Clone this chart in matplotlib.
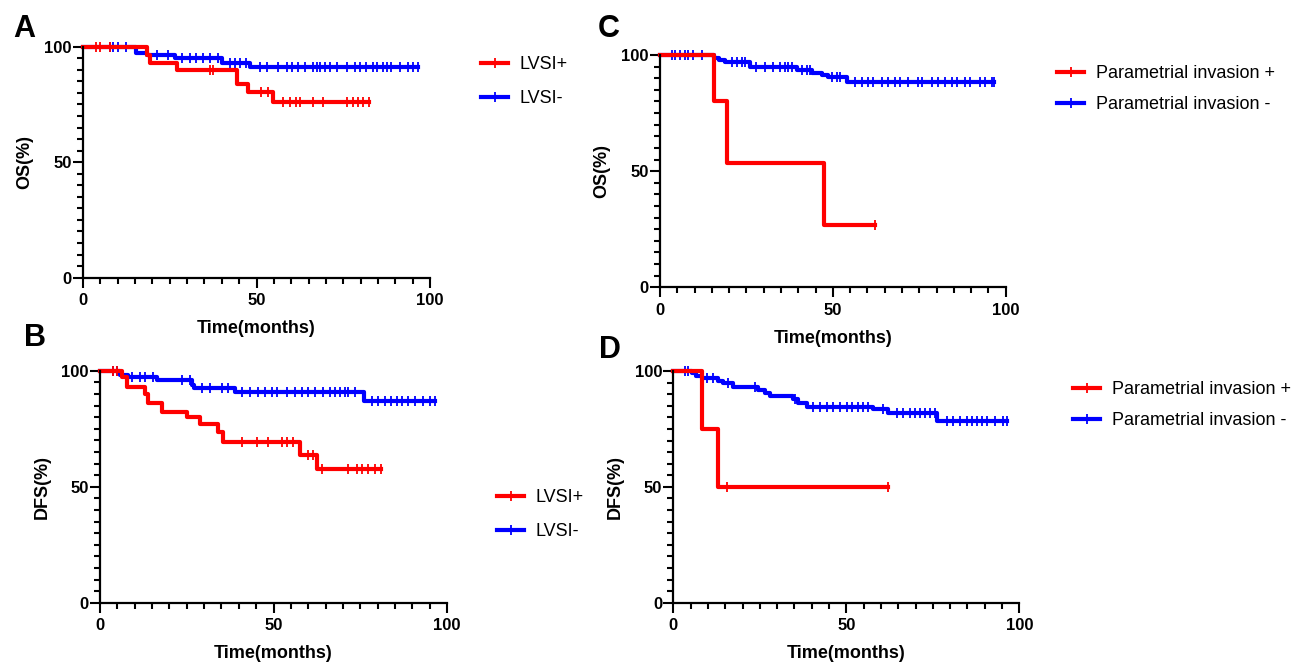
import numpy as np
import matplotlib
matplotlib.use('Agg')
import matplotlib.pyplot as plt
from matplotlib.lines import Line2D
from matplotlib.ticker import MultipleLocator

plt.rcParams['font.family'] = ['Liberation Sans', 'DejaVu Sans']

W, H = 1304, 664
RED, BLUE = '#FF0000', '#0000FF'

# ── Panel A: OS by LVSI ───────────────────────────────────────────────────────
a_pos_t = [18.3, 19.2, 27.0, 44.4, 47.5, 54.8]
a_pos_s = [96.6, 93.1, 89.7, 84.0, 80.2, 75.9]
a_pos_end = 82.5
a_pos_cens = [3.8, 4.8, 7.7, 36.5, 37.5, 51.4, 53.4, 57.7, 59.6, 61.5, 62.5,
              66.3, 69.2, 76.0, 77.9, 79.3, 80.8, 82.5]
a_neg_t = [15.4, 18.3, 26.4, 40.0, 48.0]
a_neg_s = [97.2, 96.3, 95.0, 93.0, 91.0]
a_neg_end = 96.6
a_neg_cens = [7.7, 8.7, 10.1, 12.5, 21.2, 24.5, 28.4, 30.8, 32.7, 34.6, 36.5,
              38.9, 42.3, 43.8, 45.2, 47.1, 51.0, 52.9, 56.3, 58.7, 60.1, 62.0,
              63.9, 66.3, 67.3, 68.3, 69.7, 71.2, 73.1, 76.0, 78.4, 79.8, 81.7,
              83.7, 84.6, 86.5, 87.5, 88.9, 91.3, 93.8, 95.2, 96.6]

# ── Panel B: DFS by LVSI ──────────────────────────────────────────────────────
b_pos_t = [6.2, 7.7, 13.0, 13.9, 17.8, 25.0, 28.8, 34.1, 35.5, 57.6, 62.4]
b_pos_s = [97.4, 92.9, 90.1, 85.9, 82.3, 80.0, 77.2, 73.6, 69.3, 63.6, 57.8]
b_pos_end = 81.0
b_pos_cens = [3.8, 4.8, 40.8, 45.2, 48.5, 52.4, 53.8, 55.7, 60.0, 61.5, 63.9,
              71.6, 74.0, 75.4, 77.3, 79.3, 81.0]
b_neg_t = [5.8, 8.2, 16.3, 26.4, 27.0, 38.9, 76.2]
b_neg_s = [98.2, 97.4, 96.0, 93.8, 92.4, 90.9, 87.1]
b_neg_end = 96.5
b_neg_cens = [3.8, 4.8, 9.1, 11.5, 13.0, 15.4, 23.5, 25.9, 29.3, 31.7, 35.1,
              37.0, 40.8, 43.2, 45.6, 47.5, 49.5, 50.9, 53.8, 56.2, 58.1, 60.0,
              62.0, 64.4, 66.3, 67.7, 69.2, 70.6, 71.6, 73.5, 78.3, 80.2, 82.1,
              84.0, 85.5, 87.0, 88.9, 90.8, 93.2, 95.1, 96.5]

# ── Panel C: OS by parametrial invasion ───────────────────────────────────────
c_pos_t = [15.7, 19.3, 47.5]
c_pos_s = [80.0, 53.3, 26.7]
c_pos_end = 62.2
c_pos_cens = [62.2]
c_neg_t = [15.7, 17.1, 18.8, 26.0, 39.5, 43.9, 46.8, 48.7, 54.0]
c_neg_s = [98.8, 97.8, 96.9, 95.0, 93.5, 92.1, 91.2, 90.4, 88.5]
c_neg_end = 96.7
c_neg_cens = [3.4, 4.3, 5.8, 7.2, 8.2, 9.6, 12.1, 20.7, 22.2, 23.6, 24.6, 27.9,
              30.4, 32.8, 34.7, 36.2, 37.1, 38.1, 41.0, 42.4, 43.4, 49.7, 51.1,
              52.1, 56.4, 58.3, 60.3, 61.7, 64.1, 66.0, 68.0, 69.4, 71.8, 74.7,
              75.7, 78.6, 80.5, 82.4, 84.4, 85.8, 88.2, 89.7, 92.6, 94.0, 95.9,
              96.7]

# ── Panel D: DFS by parametrial invasion ──────────────────────────────────────
d_pos_t = [8.4, 13.0]
d_pos_s = [75.0, 50.0]
d_pos_end = 62.1
d_pos_cens = [15.4, 62.1]
d_neg_t = [5.3, 6.7, 8.2, 13.0, 14.5, 17.3, 24.6, 26.5, 27.9, 34.7, 36.1, 38.5,
           57.8, 62.1, 76.1]
d_neg_s = [99.0, 98.0, 96.8, 95.8, 94.7, 93.2, 91.8, 90.4, 89.2, 87.8, 86.3,
           84.6, 83.4, 81.7, 78.5]
d_neg_end = 96.5
d_neg_cens = [3.4, 4.3, 9.6, 11.6, 15.9, 23.6, 35.2, 40.5, 42.4, 44.3, 46.3,
              48.2, 50.1, 51.6, 53.5, 54.9, 56.4, 60.7, 64.6, 66.5, 68.4, 69.9,
              71.3, 72.7, 74.2, 75.6, 79.0, 80.9, 82.9, 84.8, 86.2, 87.7, 89.1,
              90.6, 93.0, 95.4, 96.5]

lvsi_labels = ['LVSI+', 'LVSI-']
pi_labels = ['Parametrial invasion +', 'Parametrial invasion -']


def km(ax, t, s, end, cens, color):
    t = np.asarray(t)
    s = np.asarray(s)
    xs = np.r_[0, t, end]
    ys = np.r_[100, s, s[-1]]
    ax.step(xs, ys, where='post', color=color, lw=3.0, clip_on=False)
    # censored subjects as small ticks on the curve
    idx = np.searchsorted(t, cens, side='right')
    cy = np.r_[100, s][idx]
    ax.plot(cens, cy, ls='none', marker='|', ms=7, mew=1.3, color=color,
            clip_on=False)


def px_box(left, top, right, bottom):
    return [left / W, 1 - bottom / H, (right - left) / W, (bottom - top) / H]


fig = plt.figure(figsize=(W / 100, H / 100), dpi=100)

panels = [
    # box, letter, letter pos, ylabel, legend labels, legend anchor, spacing, data
    (px_box(83, 46.7, 430, 277.7), 'A', (13, 37), 'OS(%)', lvsi_labels, (481, 56), 0.95,
     (a_pos_t, a_pos_s, a_pos_end, a_pos_cens), (a_neg_t, a_neg_s, a_neg_end, a_neg_cens)),
    (px_box(100, 370.7, 447, 602.7), 'B', (24, 346), 'DFS(%)', lvsi_labels, (497, 489), 0.95,
     (b_pos_t, b_pos_s, b_pos_end, b_pos_cens), (b_neg_t, b_neg_s, b_neg_end, b_neg_cens)),
    (px_box(660, 55, 1005.7, 287.3), 'C', (598, 37), 'OS(%)', pi_labels, (1057, 65), 0.8,
     (c_pos_t, c_pos_s, c_pos_end, c_pos_cens), (c_neg_t, c_neg_s, c_neg_end, c_neg_cens)),
    (px_box(673.3, 371, 1019.3, 602.7), 'D', (599, 358), 'DFS(%)', pi_labels, (1073, 381), 0.8,
     (d_pos_t, d_pos_s, d_pos_end, d_pos_cens), (d_neg_t, d_neg_s, d_neg_end, d_neg_cens)),
]

for box, letter, lpos, ylab, labels, leg_xy, spacing, pos, neg in panels:
    ax = fig.add_axes(box)
    km(ax, *neg, BLUE)
    km(ax, *pos, RED)
    ax.set_xlim(0, 100)
    ax.set_ylim(0, 100)
    ax.set_xticks([0, 50, 100])
    ax.set_yticks([0, 50, 100])
    ax.xaxis.set_minor_locator(MultipleLocator(5))
    ax.yaxis.set_minor_locator(MultipleLocator(5))
    for side in ['top', 'right']:
        ax.spines[side].set_visible(False)
    for side in ['left', 'bottom']:
        ax.spines[side].set_linewidth(1.6)
    ax.tick_params(which='major', length=7, width=1.5, labelsize=12)
    ax.tick_params(which='minor', length=4, width=1.5)
    ax.tick_params(axis='y', which='major', pad=1)
    ax.tick_params(axis='x', which='major', pad=4)
    for lab in ax.get_xticklabels() + ax.get_yticklabels():
        lab.set_fontweight('bold')
    ax.set_xlabel('Time(months)', fontsize=13, fontweight='bold', labelpad=9)
    ax.set_ylabel(ylab, fontsize=13, fontweight='bold', labelpad=8)

    handles = [Line2D([], [], color=c, lw=3.0, marker='|', ms=7, mew=1.3)
               for c in (RED, BLUE)]
    ax.legend(handles, labels, loc='upper left',
              bbox_to_anchor=(leg_xy[0] / W, 1 - leg_xy[1] / H),
              bbox_transform=fig.transFigure, frameon=False, fontsize=13,
              handlelength=1.5, handletextpad=0.65, labelspacing=spacing,
              borderpad=0, borderaxespad=0, numpoints=1)

    fig.text(lpos[0] / W, 1 - lpos[1] / H, letter, fontsize=22,
             fontweight='bold', ha='left', va='baseline')

fig.savefig('out.png', dpi=100)
